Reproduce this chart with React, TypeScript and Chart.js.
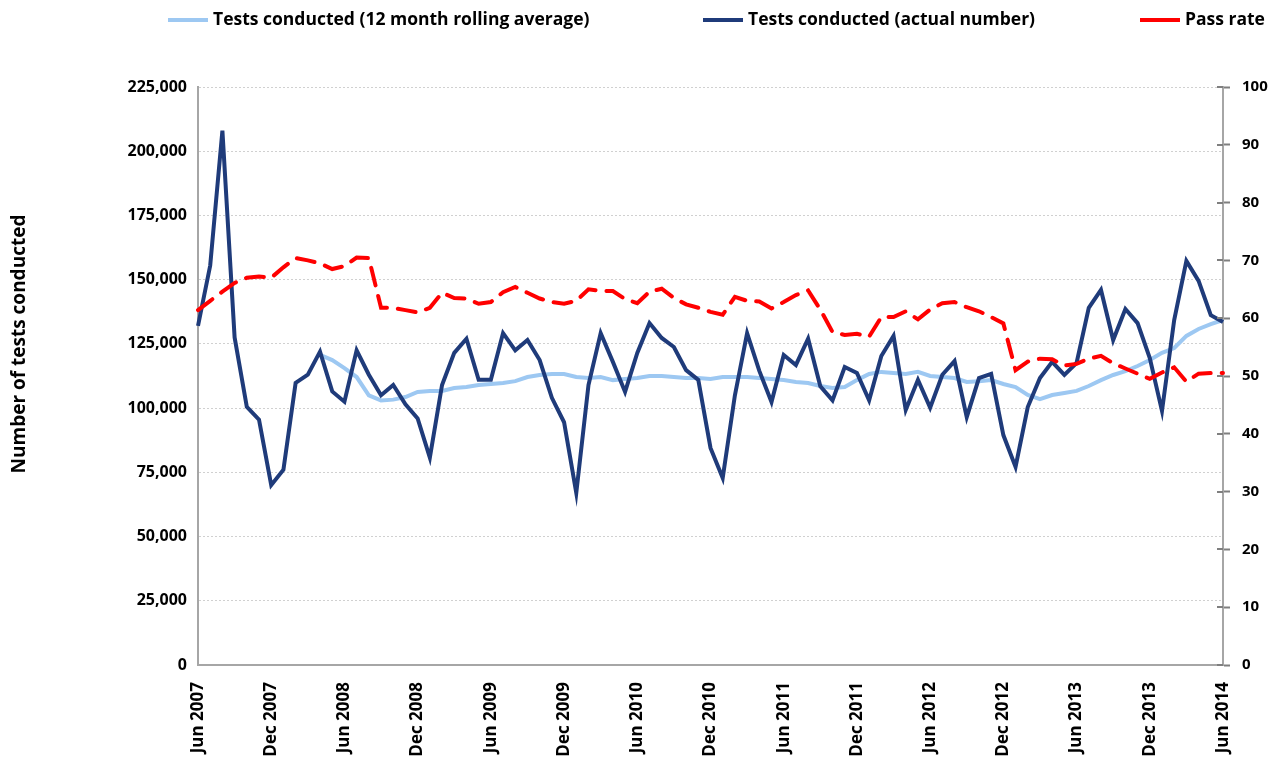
import React, { useEffect, useRef } from 'react';
import { Chart, registerables } from 'chart.js';

Chart.register(...registerables);

const MONTH_NAMES = ['Jan', 'Feb', 'Mar', 'Apr', 'May', 'Jun', 'Jul', 'Aug', 'Sep', 'Oct', 'Nov', 'Dec'];
const START_YEAR = 2007;
const START_MONTH_INDEX = 5; // June
const MONTH_COUNT = 85;

const categories: string[] = Array.from({ length: MONTH_COUNT }, (_, i) => {
  const m = START_MONTH_INDEX + i;
  return `${MONTH_NAMES[m % 12]} ${START_YEAR + Math.floor(m / 12)}`;
});

const tickLabels = [
  'Jun 2007', 'Dec 2007', 'Jun 2008', 'Dec 2008', 'Jun 2009', 'Dec 2009', 'Jun 2010', 'Dec 2010',
  'Jun 2011', 'Dec 2011', 'Jun 2012', 'Dec 2012', 'Jun 2013', 'Dec 2013', 'Jun 2014',
];

const testsActual = [
  132000, 155500, 208000, 127500, 100500, 95500, 70000, 76000, 109800, 113000,
  122000, 106500, 102500, 122500, 113000, 105000, 109000, 101500, 96000, 80700,
  109000, 121500, 127000, 111000, 111000, 129200, 122500, 126500, 118700, 104000,
  94500, 67000, 109000, 129200, 118000, 106300, 121500, 133100, 127300, 123800,
  114800, 111000, 84500, 72800, 105000, 129200, 114500, 102400, 120700, 116800,
  127000, 108500, 103000, 116000, 113700, 103000, 120300, 128100, 99300, 111000,
  100200, 113000, 118300, 96500, 111700, 113300, 89500, 77100, 100400, 111700,
  118000, 112900, 117600, 139000, 146000, 126500, 138600, 133100, 119500, 98900,
  134300, 157300, 149500, 136200, 133500,
];

const testsRolling = [
  null, null, null, null, null, null, null, null, null, null,
  120700, 118700, 115600, 112100, 105000, 103000, 103300, 104300, 106300, 106700,
  106700, 107800, 108200, 109000, 109400, 109800, 110500, 112100, 112900, 113300,
  113300, 112100, 111700, 112100, 110900, 111300, 111700, 112500, 112500, 112100,
  111700, 111700, 111300, 112100, 112100, 112100, 111700, 111300, 110900, 110200,
  109800, 108600, 107800, 108200, 110900, 113300, 114100, 113700, 113300, 114100,
  112500, 112100, 111700, 110200, 110500, 110900, 109400, 108200, 105100, 103500,
  105100, 105900, 106700, 108600, 110900, 112900, 114400, 116400, 118700, 121500,
  123400, 128100, 130800, 132700, 134300,
];

const passRate = [
  61.4, 63.0, 64.6, 66.1, 67.0, 67.2, 67.0, 68.8, 70.4, 70.0,
  69.5, 68.5, 69.0, 70.5, 70.4, 61.8, 61.8, 61.4, 61.0, 61.8,
  64.4, 63.5, 63.4, 62.5, 62.8, 64.5, 65.4, 64.4, 63.4, 62.8,
  62.5, 63.0, 65.0, 64.7, 64.7, 63.3, 62.6, 64.6, 65.1, 63.5,
  62.4, 61.8, 61.1, 60.6, 63.7, 63.0, 62.9, 61.7, 62.8, 64.0,
  64.8, 61.5, 57.6, 57.1, 57.3, 56.8, 60.2, 60.2, 61.2, 59.8,
  61.5, 62.6, 62.8, 61.9, 61.2, 60.2, 59.1, 51.0, 52.5, 53.0,
  52.9, 51.8, 52.1, 53.0, 53.5, 52.2, 51.3, 50.4, 49.5, 50.6,
  51.5, 49.0, 50.4, 50.5, 50.5,
];

const leftTicks = { min: 0, max: 225000, step: 25000 };
const rightTicks = { min: 0, max: 100, step: 10 };

const LABEL_ROLLING = 'Tests conducted (12 month rolling average)';
const LABEL_ACTUAL = 'Tests conducted (actual number)';
const LABEL_PASS = 'Pass rate';
const Y_TITLE = 'Number of tests conducted';

const FONT = "'Open Sans', 'Liberation Sans', sans-serif";
const COLOR_ROLLING = '#9dc8f2';
const COLOR_ACTUAL = '#1f3b7a';
const COLOR_PASS = '#ff0000';
const AXIS_COLOR = '#a6a6a6';

const overlayPlugin = {
  id: 'overlayLegendTitle',
  afterDraw(chart: any, _args: any, opts: any) {
    const ctx = chart.ctx as CanvasRenderingContext2D;
    ctx.save();
    // right-axis tick marks also cross into the plot a little
    const y1 = chart.scales.y1;
    if (y1) {
      ctx.strokeStyle = '#7f7f7f';
      ctx.lineWidth = 2;
      ctx.setLineDash([]);
      y1.ticks.forEach((t: any) => {
        const py = Math.round(y1.getPixelForValue(t.value));
        ctx.beginPath();
        ctx.moveTo(y1.left - 6, py);
        ctx.lineTo(y1.left, py);
        ctx.stroke();
      });
    }
    ctx.font = `bold ${opts.legendFontSize}px ${FONT}`;
    ctx.textBaseline = 'middle';
    ctx.textAlign = 'left';
    chart.data.datasets.forEach((ds: any, i: number) => {
      const x = opts.legendStarts[i];
      const y = opts.legendY;
      ctx.setLineDash([]);
      ctx.lineCap = 'butt';
      ctx.strokeStyle = ds.borderColor;
      ctx.lineWidth = 4;
      ctx.beginPath();
      ctx.moveTo(x, y);
      ctx.lineTo(x + opts.legendLine, y);
      ctx.stroke();
      ctx.fillStyle = '#000';
      ctx.fillText(ds.label, x + opts.legendLine + opts.legendGap, y);
    });
    ctx.translate(opts.titleX, opts.titleY);
    ctx.rotate(-Math.PI / 2);
    ctx.textAlign = 'center';
    ctx.font = `bold ${opts.titleFontSize}px ${FONT}`;
    ctx.fillStyle = '#000';
    ctx.fillText(opts.title, 0, 0);
    ctx.restore();
  },
};

export default function App() {
  const canvasRef = useRef<HTMLCanvasElement | null>(null);

  useEffect(() => {
    if (!canvasRef.current) return;
    const chart = new Chart(canvasRef.current, {
      type: 'line',
      data: {
        labels: categories,
        datasets: [
          {
            label: LABEL_ROLLING,
            data: testsRolling,
            borderColor: COLOR_ROLLING,
            backgroundColor: COLOR_ROLLING,
            borderWidth: 4,
            pointRadius: 0,
            tension: 0,
            yAxisID: 'y',
            order: 3,
          },
          {
            label: LABEL_ACTUAL,
            data: testsActual,
            borderColor: COLOR_ACTUAL,
            backgroundColor: COLOR_ACTUAL,
            borderWidth: 4,
            pointRadius: 0,
            tension: 0,
            yAxisID: 'y',
            order: 2,
          },
          {
            label: LABEL_PASS,
            data: passRate,
            borderColor: COLOR_PASS,
            backgroundColor: COLOR_PASS,
            borderWidth: 4,
            borderDash: [18, 11],
            borderCapStyle: 'round',
            pointRadius: 0,
            tension: 0,
            yAxisID: 'y1',
            order: 1,
          },
        ],
      },
      options: {
        animation: false,
        responsive: true,
        maintainAspectRatio: false,
        layout: { padding: { top: 79, left: 0, right: 0, bottom: 0 } },
        plugins: {
          legend: { display: false },
          tooltip: { enabled: false },
          overlayLegendTitle: {
            legendStarts: [160, 695, 1132],
            legendY: 12,
            legendLine: 40,
            legendGap: 5,
            legendFontSize: 17.5,
            title: Y_TITLE,
            titleX: 12,
            titleY: 336,
            titleFontSize: 19,
          },
        } as any,
        scales: {
          x: {
            type: 'category',
            offset: false,
            grid: { display: false },
            border: { display: true, color: AXIS_COLOR, width: 2 },
            ticks: {
              autoSkip: false,
              minRotation: 90,
              maxRotation: 90,
              padding: 9,
              color: '#000',
              font: { family: FONT, size: 17, weight: 'bold' },
              callback: (_v: any, i: number) => (tickLabels.includes(categories[i]) ? categories[i] : null),
            },
            afterFit: (s: any) => { s.height = 99; },
          },
          y: {
            position: 'left',
            min: leftTicks.min,
            max: leftTicks.max,
            grid: { drawTicks: false, color: '#d0d0d0', lineWidth: 1 },
            border: { display: true, color: AXIS_COLOR, width: 2, dash: [2, 2] },
            ticks: {
              stepSize: leftTicks.step,
              padding: 11,
              color: '#000',
              font: { family: FONT, size: 16, weight: 'bold' },
              callback: (v: any) => Number(v).toLocaleString('en-US'),
            },
            afterFit: (s: any) => { s.width = 190; },
          },
          y1: {
            position: 'right',
            min: rightTicks.min,
            max: rightTicks.max,
            grid: { drawOnChartArea: false, drawTicks: true, tickLength: 7, tickColor: '#7f7f7f', tickWidth: 2 },
            border: { display: true, color: AXIS_COLOR, width: 2 },
            ticks: {
              stepSize: rightTicks.step,
              padding: 12,
              color: '#000',
              font: { family: FONT, size: 15, weight: 'bold' },
            },
            afterFit: (s: any) => { s.width = 45; },
          },
        },
      },
      plugins: [overlayPlugin],
    });
    return () => chart.destroy();
  }, []);

  return (
    <div style={{ position: 'relative', width: '1260px', height: '756px' }}>
      <canvas ref={canvasRef} />
    </div>
  );
}
